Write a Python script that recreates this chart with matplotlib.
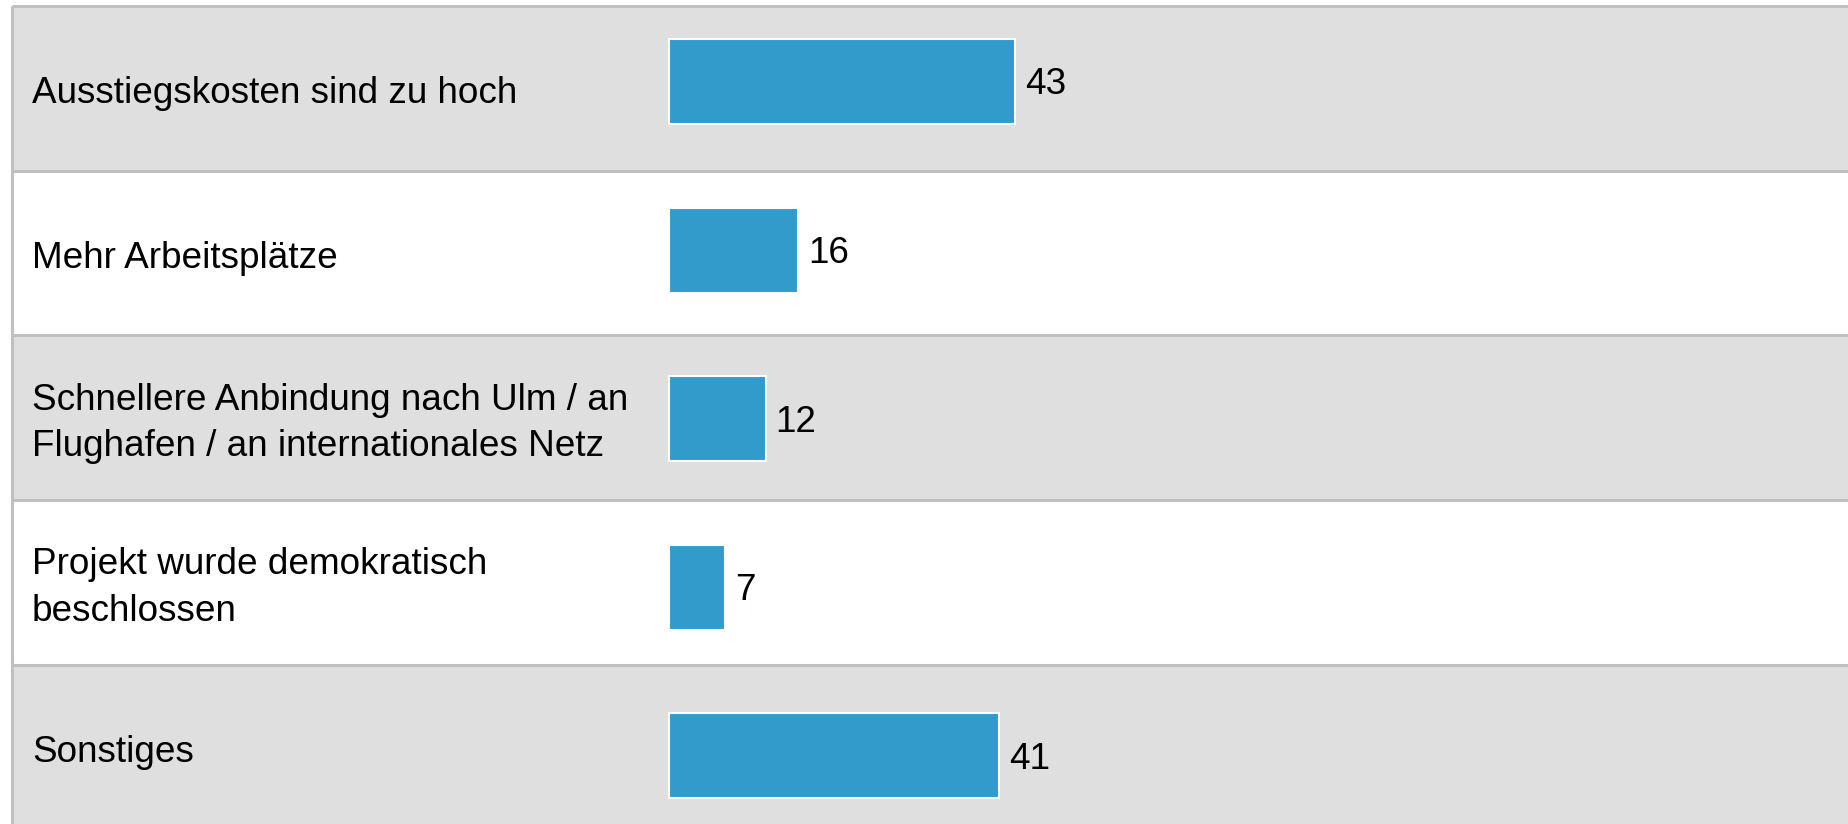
import matplotlib

matplotlib.use("Agg")
import matplotlib.pyplot as plt
import matplotlib.transforms as mtransforms

categories = [
    "Ausstiegskosten sind zu hoch",
    "Mehr Arbeitsplätze",
    "Schnellere Anbindung nach Ulm / an\nFlughafen / an internationales Netz",
    "Projekt wurde demokratisch\nbeschlossen",
    "Sonstiges",
]
values = [43, 16, 12, 7, 41]
row_colors = ["#dfdfdf", "#ffffff", "#dfdfdf", "#ffffff", "#dfdfdf"]

BAR_COLOR = "#339acc"
GRID_COLOR = "#c0c0c0"
FONT = "Liberation Sans"
FS = 26.6

W, H = 1849, 824
fig = plt.figure(figsize=(W / 100, H / 100), dpi=100)
ax = fig.add_axes([0, 0, 1, 1])

# pixel layout of the table
top_px = 6
row_px = 164.7
bar_x0_px = 669
px_per_unit = 8.05
left_px = 12
# bars sit on a slightly wider pitch than the table rows
bar_first_px = 81.5
bar_pitch_px = 168.6

y_top = -0.5 - top_px / row_px
ax.set_ylim(y_top + H / row_px, y_top)
xlim = (-bar_x0_px / px_per_unit, (W - bar_x0_px) / px_per_unit)
ax.set_xlim(*xlim)
x_left = (left_px - bar_x0_px) / px_per_unit

for i, color in enumerate(row_colors):
    ax.axhspan(i - 0.5, i + 0.5, xmin=left_px / W, xmax=1, color=color, lw=0, zorder=0)
for i in range(len(categories) + 1):
    ax.plot([x_left, xlim[1]], [i - 0.5, i - 0.5], color=GRID_COLOR, lw=2.2, zorder=1,
            solid_capstyle="butt")
ax.plot([x_left, x_left], [-0.5, len(categories)], color=GRID_COLOR, lw=2.2, zorder=1,
        solid_capstyle="butt")

ypos = list(range(len(categories)))
trans = mtransforms.blended_transform_factory(fig.transFigure, ax.transData)
for y, label in zip(ypos, categories):
    ax.text(32 / W, y + 0.033, label, transform=trans, ha="left", va="center", fontsize=FS,
            family=FONT, color="black", linespacing=1.42, zorder=3)
ax.axis("off")

# bars on their own axes
bx = fig.add_axes([0, 0, 1, 1])
b_top = -bar_first_px / bar_pitch_px
bx.set_ylim(b_top + H / bar_pitch_px, b_top)
bx.set_xlim(*xlim)
bx.barh(ypos, values, height=85 / bar_pitch_px, left=0, color=BAR_COLOR, edgecolor="white",
        linewidth=1.5, zorder=2)
for y, v in zip(ypos, values):
    bx.text(v + 1.25, y + 0.02, str(v), ha="left", va="center", fontsize=FS,
            family=FONT, color="black", zorder=3)
bx.axis("off")
bx.patch.set_alpha(0)

fig.savefig("out.png", dpi=100, facecolor="white")
